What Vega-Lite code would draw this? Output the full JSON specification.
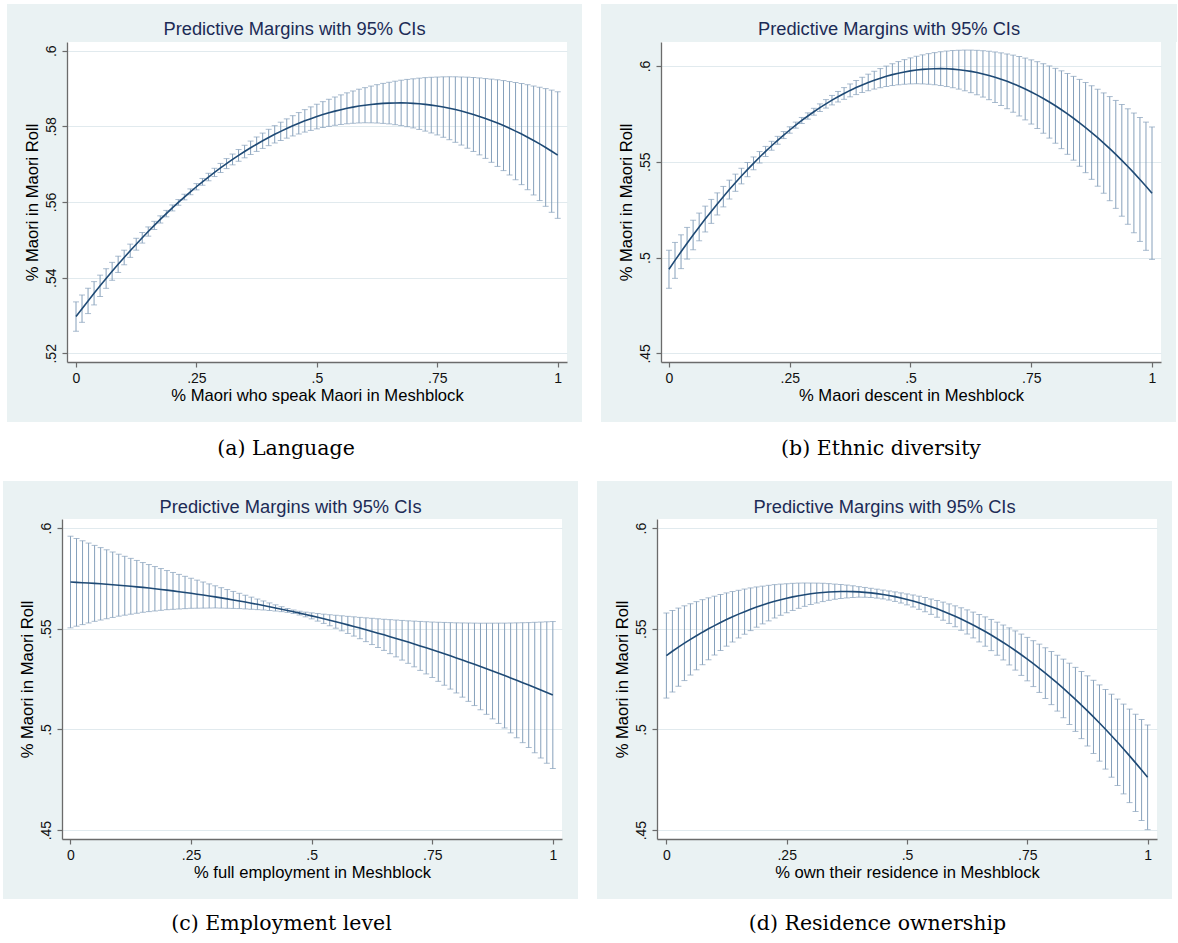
{
"$schema":"https://vega.github.io/schema/vega-lite/v6.json",
"background":"#eaf2f3",
"padding":0,
"spacing":0,
"config":{"view":{"stroke":null},"concat":{"spacing":0},"font":"Liberation Sans",
"axis":{"labelFont":"Liberation Sans","labelFontSize":14,"labelColor":"#111111","titleFont":"Liberation Sans","titleFontSize":16.6,"titleFontWeight":"normal","titleColor":"#000000","domainColor":"#6b6b6b","domainWidth":1.3,"tickColor":"#6b6b6b","tickWidth":1.2,"tickSize":5,"gridColor":"#e1eaee","gridWidth":1,"labelFlush":false,"labelOverlap":false,"labelPadding":4},
"axisX":{"titlePadding":2},
"axisY":{"titlePadding":4}},
"datasets":{
"a":[{"x":0,"m":0.52971,"e":0.00388},{"x":0.0125,"m":0.5318,"e":0.00361},{"x":0.025,"m":0.53385,"e":0.00335},{"x":0.0375,"m":0.53587,"e":0.00308},{"x":0.05,"m":0.53784,"e":0.00282},{"x":0.0625,"m":0.53977,"e":0.00259},{"x":0.075,"m":0.54167,"e":0.00237},{"x":0.0875,"m":0.54352,"e":0.00215},{"x":0.1,"m":0.54533,"e":0.00193},{"x":0.1125,"m":0.54711,"e":0.00175},{"x":0.125,"m":0.54884,"e":0.00157},{"x":0.1375,"m":0.55054,"e":0.0014},{"x":0.15,"m":0.55219,"e":0.00122},{"x":0.1625,"m":0.55381,"e":0.00108},{"x":0.175,"m":0.55539,"e":0.00095},{"x":0.1875,"m":0.55693,"e":0.00085},{"x":0.2,"m":0.55843,"e":0.00079},{"x":0.2125,"m":0.55989,"e":0.00075},{"x":0.225,"m":0.56131,"e":0.00074},{"x":0.2375,"m":0.56269,"e":0.00077},{"x":0.25,"m":0.56403,"e":0.00083},{"x":0.2625,"m":0.56533,"e":0.0009},{"x":0.275,"m":0.5666,"e":0.00099},{"x":0.2875,"m":0.56782,"e":0.00109},{"x":0.3,"m":0.569,"e":0.0012},{"x":0.3125,"m":0.57015,"e":0.00132},{"x":0.325,"m":0.57125,"e":0.00143},{"x":0.3375,"m":0.57232,"e":0.00155},{"x":0.35,"m":0.57334,"e":0.00166},{"x":0.3625,"m":0.57433,"e":0.00178},{"x":0.375,"m":0.57528,"e":0.00191},{"x":0.3875,"m":0.57619,"e":0.00203},{"x":0.4,"m":0.57706,"e":0.00216},{"x":0.4125,"m":0.57789,"e":0.00229},{"x":0.425,"m":0.57868,"e":0.00242},{"x":0.4375,"m":0.57943,"e":0.00255},{"x":0.45,"m":0.58014,"e":0.00268},{"x":0.4625,"m":0.58081,"e":0.00283},{"x":0.475,"m":0.58145,"e":0.00297},{"x":0.4875,"m":0.58204,"e":0.00311},{"x":0.5,"m":0.58259,"e":0.00326},{"x":0.5125,"m":0.58311,"e":0.00342},{"x":0.525,"m":0.58358,"e":0.00358},{"x":0.5375,"m":0.58402,"e":0.00374},{"x":0.55,"m":0.58441,"e":0.00391},{"x":0.5625,"m":0.58477,"e":0.00409},{"x":0.575,"m":0.58508,"e":0.00427},{"x":0.5875,"m":0.58536,"e":0.00446},{"x":0.6,"m":0.58559,"e":0.00464},{"x":0.6125,"m":0.58579,"e":0.00486},{"x":0.625,"m":0.58595,"e":0.00507},{"x":0.6375,"m":0.58607,"e":0.00529},{"x":0.65,"m":0.58615,"e":0.0055},{"x":0.6625,"m":0.58619,"e":0.00575},{"x":0.675,"m":0.5862,"e":0.006},{"x":0.6875,"m":0.58616,"e":0.00625},{"x":0.7,"m":0.58608,"e":0.00649},{"x":0.7125,"m":0.58596,"e":0.00678},{"x":0.725,"m":0.58581,"e":0.00707},{"x":0.7375,"m":0.58561,"e":0.00736},{"x":0.75,"m":0.58538,"e":0.00765},{"x":0.7625,"m":0.5851,"e":0.00799},{"x":0.775,"m":0.58479,"e":0.00832},{"x":0.7875,"m":0.58444,"e":0.00866},{"x":0.8,"m":0.58405,"e":0.009},{"x":0.8125,"m":0.58361,"e":0.00939},{"x":0.825,"m":0.58314,"e":0.00978},{"x":0.8375,"m":0.58263,"e":0.01017},{"x":0.85,"m":0.58208,"e":0.01055},{"x":0.8625,"m":0.58149,"e":0.011},{"x":0.875,"m":0.58086,"e":0.01145},{"x":0.8875,"m":0.5802,"e":0.0119},{"x":0.9,"m":0.57949,"e":0.01235},{"x":0.9125,"m":0.57874,"e":0.01286},{"x":0.925,"m":0.57796,"e":0.01337},{"x":0.9375,"m":0.57713,"e":0.01388},{"x":0.95,"m":0.57626,"e":0.0144},{"x":0.9625,"m":0.57536,"e":0.01498},{"x":0.975,"m":0.57442,"e":0.01556},{"x":0.9875,"m":0.57343,"e":0.01615},{"x":1,"m":0.57241,"e":0.01673}],
"b":[{"x":0,"m":0.4939,"e":0.00992},{"x":0.0125,"m":0.49853,"e":0.00937},{"x":0.025,"m":0.50305,"e":0.00882},{"x":0.0375,"m":0.50747,"e":0.00827},{"x":0.05,"m":0.51178,"e":0.00771},{"x":0.0625,"m":0.51599,"e":0.00723},{"x":0.075,"m":0.5201,"e":0.00674},{"x":0.0875,"m":0.5241,"e":0.00625},{"x":0.1,"m":0.52799,"e":0.00577},{"x":0.1125,"m":0.53179,"e":0.00534},{"x":0.125,"m":0.53547,"e":0.00492},{"x":0.1375,"m":0.53906,"e":0.00449},{"x":0.15,"m":0.54253,"e":0.00407},{"x":0.1625,"m":0.54591,"e":0.00371},{"x":0.175,"m":0.54917,"e":0.00335},{"x":0.1875,"m":0.55234,"e":0.00299},{"x":0.2,"m":0.55539,"e":0.00263},{"x":0.2125,"m":0.55835,"e":0.00232},{"x":0.225,"m":0.5612,"e":0.00206},{"x":0.2375,"m":0.56394,"e":0.00183},{"x":0.25,"m":0.56658,"e":0.00167},{"x":0.2625,"m":0.56912,"e":0.00158},{"x":0.275,"m":0.57155,"e":0.00157},{"x":0.2875,"m":0.57388,"e":0.00164},{"x":0.3,"m":0.5761,"e":0.00179},{"x":0.3125,"m":0.57822,"e":0.00198},{"x":0.325,"m":0.58023,"e":0.00221},{"x":0.3375,"m":0.58214,"e":0.00247},{"x":0.35,"m":0.58394,"e":0.00275},{"x":0.3625,"m":0.58564,"e":0.00306},{"x":0.375,"m":0.58724,"e":0.00336},{"x":0.3875,"m":0.58873,"e":0.00367},{"x":0.4,"m":0.59011,"e":0.00398},{"x":0.4125,"m":0.59139,"e":0.00432},{"x":0.425,"m":0.59257,"e":0.00465},{"x":0.4375,"m":0.59364,"e":0.00499},{"x":0.45,"m":0.5946,"e":0.00533},{"x":0.4625,"m":0.59547,"e":0.00569},{"x":0.475,"m":0.59622,"e":0.00606},{"x":0.4875,"m":0.59688,"e":0.00642},{"x":0.5,"m":0.59742,"e":0.00679},{"x":0.5125,"m":0.59787,"e":0.00718},{"x":0.525,"m":0.59821,"e":0.00758},{"x":0.5375,"m":0.59844,"e":0.00798},{"x":0.55,"m":0.59857,"e":0.00838},{"x":0.5625,"m":0.5986,"e":0.00882},{"x":0.575,"m":0.59852,"e":0.00926},{"x":0.5875,"m":0.59834,"e":0.0097},{"x":0.6,"m":0.59805,"e":0.01014},{"x":0.6125,"m":0.59766,"e":0.01062},{"x":0.625,"m":0.59716,"e":0.01111},{"x":0.6375,"m":0.59656,"e":0.0116},{"x":0.65,"m":0.59585,"e":0.01209},{"x":0.6625,"m":0.59504,"e":0.01264},{"x":0.675,"m":0.59412,"e":0.01318},{"x":0.6875,"m":0.5931,"e":0.01373},{"x":0.7,"m":0.59197,"e":0.01428},{"x":0.7125,"m":0.59075,"e":0.0149},{"x":0.725,"m":0.58941,"e":0.01551},{"x":0.7375,"m":0.58798,"e":0.01613},{"x":0.75,"m":0.58643,"e":0.01675},{"x":0.7625,"m":0.58479,"e":0.01744},{"x":0.775,"m":0.58303,"e":0.01814},{"x":0.7875,"m":0.58118,"e":0.01883},{"x":0.8,"m":0.57921,"e":0.01953},{"x":0.8125,"m":0.57715,"e":0.02031},{"x":0.825,"m":0.57498,"e":0.02109},{"x":0.8375,"m":0.5727,"e":0.02187},{"x":0.85,"m":0.57032,"e":0.02266},{"x":0.8625,"m":0.56784,"e":0.02354},{"x":0.875,"m":0.56525,"e":0.02442},{"x":0.8875,"m":0.56255,"e":0.0253},{"x":0.9,"m":0.55975,"e":0.02618},{"x":0.9125,"m":0.55685,"e":0.02717},{"x":0.925,"m":0.55384,"e":0.02816},{"x":0.9375,"m":0.55073,"e":0.02914},{"x":0.95,"m":0.54751,"e":0.03013},{"x":0.9625,"m":0.54419,"e":0.03124},{"x":0.975,"m":0.54077,"e":0.03234},{"x":0.9875,"m":0.53724,"e":0.03345},{"x":1,"m":0.5336,"e":0.03455}],
"c":[{"x":0,"m":0.5732,"e":0.02276},{"x":0.0125,"m":0.57304,"e":0.02178},{"x":0.025,"m":0.57287,"e":0.02081},{"x":0.0375,"m":0.57271,"e":0.01983},{"x":0.05,"m":0.57254,"e":0.01885},{"x":0.0625,"m":0.57232,"e":0.01798},{"x":0.075,"m":0.57209,"e":0.01712},{"x":0.0875,"m":0.57187,"e":0.01625},{"x":0.1,"m":0.57164,"e":0.01538},{"x":0.1125,"m":0.57136,"e":0.01462},{"x":0.125,"m":0.57109,"e":0.01386},{"x":0.1375,"m":0.57081,"e":0.01311},{"x":0.15,"m":0.57053,"e":0.01235},{"x":0.1625,"m":0.5702,"e":0.01169},{"x":0.175,"m":0.56986,"e":0.01103},{"x":0.1875,"m":0.56953,"e":0.01037},{"x":0.2,"m":0.56919,"e":0.00972},{"x":0.2125,"m":0.5688,"e":0.00915},{"x":0.225,"m":0.56841,"e":0.00859},{"x":0.2375,"m":0.56801,"e":0.00802},{"x":0.25,"m":0.56762,"e":0.00746},{"x":0.2625,"m":0.56717,"e":0.00697},{"x":0.275,"m":0.56673,"e":0.00648},{"x":0.2875,"m":0.56628,"e":0.00599},{"x":0.3,"m":0.56583,"e":0.0055},{"x":0.3125,"m":0.56533,"e":0.00507},{"x":0.325,"m":0.56482,"e":0.00465},{"x":0.3375,"m":0.56432,"e":0.00422},{"x":0.35,"m":0.56381,"e":0.00379},{"x":0.3625,"m":0.56325,"e":0.0034},{"x":0.375,"m":0.56269,"e":0.00301},{"x":0.3875,"m":0.56213,"e":0.00263},{"x":0.4,"m":0.56157,"e":0.00224},{"x":0.4125,"m":0.56095,"e":0.00188},{"x":0.425,"m":0.56034,"e":0.00154},{"x":0.4375,"m":0.55972,"e":0.00122},{"x":0.45,"m":0.5591,"e":0.00097},{"x":0.4625,"m":0.55843,"e":0.00086},{"x":0.475,"m":0.55776,"e":0.00093},{"x":0.4875,"m":0.55708,"e":0.00116},{"x":0.5,"m":0.55641,"e":0.00149},{"x":0.5125,"m":0.55568,"e":0.00188},{"x":0.525,"m":0.55495,"e":0.00229},{"x":0.5375,"m":0.55422,"e":0.00274},{"x":0.55,"m":0.55349,"e":0.00321},{"x":0.5625,"m":0.55271,"e":0.00373},{"x":0.575,"m":0.55192,"e":0.00425},{"x":0.5875,"m":0.55114,"e":0.00478},{"x":0.6,"m":0.55035,"e":0.0053},{"x":0.6125,"m":0.54951,"e":0.00591},{"x":0.625,"m":0.54867,"e":0.00652},{"x":0.6375,"m":0.54782,"e":0.00713},{"x":0.65,"m":0.54698,"e":0.00773},{"x":0.6625,"m":0.54608,"e":0.00844},{"x":0.675,"m":0.54519,"e":0.00914},{"x":0.6875,"m":0.54429,"e":0.00984},{"x":0.7,"m":0.54339,"e":0.01055},{"x":0.7125,"m":0.54244,"e":0.01135},{"x":0.725,"m":0.54148,"e":0.01215},{"x":0.7375,"m":0.54053,"e":0.01296},{"x":0.75,"m":0.53957,"e":0.01376},{"x":0.7625,"m":0.53856,"e":0.01467},{"x":0.775,"m":0.53755,"e":0.01559},{"x":0.7875,"m":0.53654,"e":0.0165},{"x":0.8,"m":0.53553,"e":0.01741},{"x":0.8125,"m":0.53446,"e":0.01843},{"x":0.825,"m":0.5334,"e":0.01945},{"x":0.8375,"m":0.53233,"e":0.02047},{"x":0.85,"m":0.53126,"e":0.02149},{"x":0.8625,"m":0.53014,"e":0.02263},{"x":0.875,"m":0.52901,"e":0.02376},{"x":0.8875,"m":0.52789,"e":0.0249},{"x":0.9,"m":0.52676,"e":0.02603},{"x":0.9125,"m":0.52558,"e":0.02728},{"x":0.925,"m":0.5244,"e":0.02853},{"x":0.9375,"m":0.52322,"e":0.02978},{"x":0.95,"m":0.52204,"e":0.03102},{"x":0.9625,"m":0.52081,"e":0.03239},{"x":0.975,"m":0.51957,"e":0.03375},{"x":0.9875,"m":0.51834,"e":0.03512},{"x":1,"m":0.5171,"e":0.03648}],
"d":[{"x":0,"m":0.5367,"e":0.02112},{"x":0.0125,"m":0.53882,"e":0.02027},{"x":0.025,"m":0.54086,"e":0.01941},{"x":0.0375,"m":0.54283,"e":0.01856},{"x":0.05,"m":0.54472,"e":0.0177},{"x":0.0625,"m":0.54654,"e":0.01693},{"x":0.075,"m":0.5483,"e":0.01615},{"x":0.0875,"m":0.54997,"e":0.01538},{"x":0.1,"m":0.55157,"e":0.01461},{"x":0.1125,"m":0.5531,"e":0.01391},{"x":0.125,"m":0.55457,"e":0.01322},{"x":0.1375,"m":0.55595,"e":0.01253},{"x":0.15,"m":0.55726,"e":0.01183},{"x":0.1625,"m":0.5585,"e":0.01122},{"x":0.175,"m":0.55968,"e":0.0106},{"x":0.1875,"m":0.56077,"e":0.00999},{"x":0.2,"m":0.56179,"e":0.00937},{"x":0.2125,"m":0.56274,"e":0.00883},{"x":0.225,"m":0.56363,"e":0.00829},{"x":0.2375,"m":0.56443,"e":0.00774},{"x":0.25,"m":0.56516,"e":0.0072},{"x":0.2625,"m":0.56582,"e":0.00673},{"x":0.275,"m":0.56641,"e":0.00627},{"x":0.2875,"m":0.56692,"e":0.0058},{"x":0.3,"m":0.56736,"e":0.00533},{"x":0.3125,"m":0.56773,"e":0.00494},{"x":0.325,"m":0.56804,"e":0.00455},{"x":0.3375,"m":0.56826,"e":0.00415},{"x":0.35,"m":0.56841,"e":0.00376},{"x":0.3625,"m":0.56849,"e":0.00348},{"x":0.375,"m":0.5685,"e":0.00319},{"x":0.3875,"m":0.56843,"e":0.0029},{"x":0.4,"m":0.56829,"e":0.00261},{"x":0.4125,"m":0.56808,"e":0.00243},{"x":0.425,"m":0.5678,"e":0.00229},{"x":0.4375,"m":0.56744,"e":0.00222},{"x":0.45,"m":0.56701,"e":0.0022},{"x":0.4625,"m":0.56651,"e":0.00225},{"x":0.475,"m":0.56594,"e":0.00236},{"x":0.4875,"m":0.56529,"e":0.00252},{"x":0.5,"m":0.56457,"e":0.00272},{"x":0.5125,"m":0.56378,"e":0.003},{"x":0.525,"m":0.56292,"e":0.00327},{"x":0.5375,"m":0.56197,"e":0.00354},{"x":0.55,"m":0.56096,"e":0.00381},{"x":0.5625,"m":0.55988,"e":0.00416},{"x":0.575,"m":0.55873,"e":0.0045},{"x":0.5875,"m":0.55749,"e":0.00485},{"x":0.6,"m":0.55619,"e":0.00519},{"x":0.6125,"m":0.55482,"e":0.0056},{"x":0.625,"m":0.55338,"e":0.006},{"x":0.6375,"m":0.55186,"e":0.00641},{"x":0.65,"m":0.55027,"e":0.00681},{"x":0.6625,"m":0.54861,"e":0.00728},{"x":0.675,"m":0.54688,"e":0.00774},{"x":0.6875,"m":0.54506,"e":0.00821},{"x":0.7,"m":0.54318,"e":0.00867},{"x":0.7125,"m":0.54123,"e":0.0092},{"x":0.725,"m":0.5392,"e":0.00973},{"x":0.7375,"m":0.5371,"e":0.01026},{"x":0.75,"m":0.53492,"e":0.01079},{"x":0.7625,"m":0.53268,"e":0.01139},{"x":0.775,"m":0.53037,"e":0.01199},{"x":0.7875,"m":0.52797,"e":0.01259},{"x":0.8,"m":0.52551,"e":0.01319},{"x":0.8125,"m":0.52298,"e":0.01387},{"x":0.825,"m":0.52037,"e":0.01455},{"x":0.8375,"m":0.51769,"e":0.01522},{"x":0.85,"m":0.51493,"e":0.0159},{"x":0.8625,"m":0.51211,"e":0.01666},{"x":0.875,"m":0.50921,"e":0.01742},{"x":0.8875,"m":0.50624,"e":0.01817},{"x":0.9,"m":0.50319,"e":0.01893},{"x":0.9125,"m":0.50008,"e":0.01977},{"x":0.925,"m":0.49689,"e":0.02061},{"x":0.9375,"m":0.49363,"e":0.02145},{"x":0.95,"m":0.49029,"e":0.02229},{"x":0.9625,"m":0.48689,"e":0.02322},{"x":0.975,"m":0.48341,"e":0.02414},{"x":0.9875,"m":0.47986,"e":0.02507},{"x":1,"m":0.47623,"e":0.02599}]
},
"vconcat":[
{"width":1178,"height":4,"data":{"values":[]},"mark":"point","encoding":{},"view":{"fill":"white"}},
{"bounds":"flush","spacing":0,"hconcat":[
 {"width":7,"height":38,"data":{"values":[]},"mark":"point","encoding":{},"view":{"fill":"white"}},
 {"width":575,"height":38,"data":{"values":[{"t":"Predictive Margins with 95% CIs"}]},"mark":{"type":"text","font":"Liberation Sans","fontSize":18.3,"color":"#1c2b56","baseline":"alphabetic","dy":12},"encoding":{"text":{"field":"t"}}},
 {"width":19,"height":38,"data":{"values":[]},"mark":"point","encoding":{},"view":{"fill":"white"}},
 {"width":576,"height":38,"data":{"values":[{"t":"Predictive Margins with 95% CIs"}]},"mark":{"type":"text","font":"Liberation Sans","fontSize":18.3,"color":"#1c2b56","baseline":"alphabetic","dy":12},"encoding":{"text":{"field":"t"}}},
 {"width":1,"height":38,"data":{"values":[]},"mark":"point","encoding":{},"view":{"fill":"white"}}
]},
{"bounds":"flush","spacing":0,"hconcat":[
 {"width":7,"height":380,"data":{"values":[]},"mark":"point","encoding":{},"view":{"fill":"white"}},
 {"width":60,"height":380,"data":{"values":[]},"mark":"point","encoding":{}},
 {"width":500,"height":320,"data":{"name":"a"},"view":{"fill":"white"},
  "encoding":{
   "x":{"field":"x","type":"quantitative","scale":{"domain":[-0.0187,1.0193],"nice":false,"zero":false},"axis":{"values":[0,0.25,0.5,0.75,1],"grid":false,"title":"% Maori who speak Maori in Meshblock","labelExpr":"replace(format(datum.value, '.2~f'), '0.', '.')"}},
   "y":{"field":"m","type":"quantitative","scale":{"domain":[0.5177,0.6023],"nice":false,"zero":false},"axis":{"values":[0.52,0.54,0.56,0.58,0.6],"grid":true,"labelAngle":270,"title":"% Maori in Maori Roll","labelExpr":"replace(format(datum.value, '.2~f'), '0.', '.')"}}},
  "layer":[
   {"mark":{"type":"errorbar","ticks":true,"size":6,"thickness":1,"color":"#86a0bb"},"encoding":{"yError":{"field":"e"}}},
   {"mark":{"type":"line","color":"#1f4a75","strokeWidth":1.6},"encoding":{}}
  ]},
 {"width":15,"height":380,"data":{"values":[]},"mark":"point","encoding":{}},
 {"width":19,"height":380,"data":{"values":[]},"mark":"point","encoding":{},"view":{"fill":"white"}},
 {"width":60,"height":380,"data":{"values":[]},"mark":"point","encoding":{}},
 {"width":500,"height":320,"data":{"name":"b"},"view":{"fill":"white"},
  "encoding":{
   "x":{"field":"x","type":"quantitative","scale":{"domain":[-0.0165,1.0186],"nice":false,"zero":false},"axis":{"values":[0,0.25,0.5,0.75,1],"grid":false,"title":"% Maori descent in Meshblock","labelExpr":"replace(format(datum.value, '.2~f'), '0.', '.')"}},
   "y":{"field":"m","type":"quantitative","scale":{"domain":[0.4455,0.6125],"nice":false,"zero":false},"axis":{"values":[0.45,0.5,0.55,0.6],"grid":true,"labelAngle":270,"title":"% Maori in Maori Roll","labelExpr":"replace(format(datum.value, '.2~f'), '0.', '.')"}}},
  "layer":[
   {"mark":{"type":"errorbar","ticks":true,"size":6,"thickness":1,"color":"#86a0bb"},"encoding":{"yError":{"field":"e"}}},
   {"mark":{"type":"line","color":"#1f4a75","strokeWidth":1.6},"encoding":{}}
  ]},
 {"width":15,"height":380,"data":{"values":[]},"mark":"point","encoding":{}},
 {"width":2,"height":380,"data":{"values":[]},"mark":"point","encoding":{},"view":{"fill":"white"}}
]},
{"bounds":"flush","spacing":0,"hconcat":[
 {"width":572,"height":59,"view":{"fill":"white"},"data":{"values":[{"t":"(a) Language"}]},"mark":{"type":"text","font":"DejaVu Serif","fontSize":20.5,"color":"#000000","baseline":"alphabetic","dy":3},"encoding":{"text":{"field":"t"}}},
 {"width":606,"height":59,"view":{"fill":"white"},"data":{"values":[{"t":"(b) Ethnic diversity"}]},"mark":{"type":"text","font":"DejaVu Serif","fontSize":20.5,"color":"#000000","baseline":"alphabetic","dy":3,"dx":6},"encoding":{"text":{"field":"t"}}}
]},
{"bounds":"flush","spacing":0,"hconcat":[
 {"width":3,"height":38,"data":{"values":[]},"mark":"point","encoding":{},"view":{"fill":"white"}},
 {"width":575,"height":38,"data":{"values":[{"t":"Predictive Margins with 95% CIs"}]},"mark":{"type":"text","font":"Liberation Sans","fontSize":18.3,"color":"#1c2b56","baseline":"alphabetic","dy":12.5},"encoding":{"text":{"field":"t"}}},
 {"width":19,"height":38,"data":{"values":[]},"mark":"point","encoding":{},"view":{"fill":"white"}},
 {"width":575,"height":38,"data":{"values":[{"t":"Predictive Margins with 95% CIs"}]},"mark":{"type":"text","font":"Liberation Sans","fontSize":18.3,"color":"#1c2b56","baseline":"alphabetic","dy":12.5},"encoding":{"text":{"field":"t"}}},
 {"width":6,"height":38,"data":{"values":[]},"mark":"point","encoding":{},"view":{"fill":"white"}}
]},
{"bounds":"flush","spacing":0,"hconcat":[
 {"width":3,"height":380,"data":{"values":[]},"mark":"point","encoding":{},"view":{"fill":"white"}},
 {"width":59,"height":380,"data":{"values":[]},"mark":"point","encoding":{}},
 {"width":500,"height":320,"data":{"name":"c"},"view":{"fill":"white"},
  "encoding":{
   "x":{"field":"x","type":"quantitative","scale":{"domain":[-0.0176,1.019],"nice":false,"zero":false},"axis":{"values":[0,0.25,0.5,0.75,1],"grid":false,"title":"% full employment in Meshblock","labelExpr":"replace(format(datum.value, '.2~f'), '0.', '.')"}},
   "y":{"field":"m","type":"quantitative","scale":{"domain":[0.4456,0.6045],"nice":false,"zero":false},"axis":{"values":[0.45,0.5,0.55,0.6],"grid":true,"labelAngle":270,"title":"% Maori in Maori Roll","labelExpr":"replace(format(datum.value, '.2~f'), '0.', '.')"}}},
  "layer":[
   {"mark":{"type":"errorbar","ticks":true,"size":6,"thickness":1,"color":"#86a0bb"},"encoding":{"yError":{"field":"e"}}},
   {"mark":{"type":"line","color":"#1f4a75","strokeWidth":1.6},"encoding":{}}
  ]},
 {"width":16,"height":380,"data":{"values":[]},"mark":"point","encoding":{}},
 {"width":19,"height":380,"data":{"values":[]},"mark":"point","encoding":{},"view":{"fill":"white"}},
 {"width":60,"height":380,"data":{"values":[]},"mark":"point","encoding":{}},
 {"width":500,"height":320,"data":{"name":"d"},"view":{"fill":"white"},
  "encoding":{
   "x":{"field":"x","type":"quantitative","scale":{"domain":[-0.0195,1.0195],"nice":false,"zero":false},"axis":{"values":[0,0.25,0.5,0.75,1],"grid":false,"title":"% own their residence in Meshblock","labelExpr":"replace(format(datum.value, '.2~f'), '0.', '.')"}},
   "y":{"field":"m","type":"quantitative","scale":{"domain":[0.4456,0.6045],"nice":false,"zero":false},"axis":{"values":[0.45,0.5,0.55,0.6],"grid":true,"labelAngle":270,"title":"% Maori in Maori Roll","labelExpr":"replace(format(datum.value, '.2~f'), '0.', '.')"}}},
  "layer":[
   {"mark":{"type":"errorbar","ticks":true,"size":6,"thickness":1,"color":"#86a0bb"},"encoding":{"yError":{"field":"e"}}},
   {"mark":{"type":"line","color":"#1f4a75","strokeWidth":1.6},"encoding":{}}
  ]},
 {"width":15,"height":380,"data":{"values":[]},"mark":"point","encoding":{}},
 {"width":6,"height":380,"data":{"values":[]},"mark":"point","encoding":{},"view":{"fill":"white"}}
]},
{"bounds":"flush","spacing":0,"hconcat":[
 {"width":563,"height":44,"view":{"fill":"white"},"data":{"values":[{"t":"(c) Employment level"}]},"mark":{"type":"text","font":"DejaVu Serif","fontSize":20.5,"color":"#000000","baseline":"alphabetic","dy":9},"encoding":{"text":{"field":"t"}}},
 {"width":615,"height":44,"view":{"fill":"white"},"data":{"values":[{"t":"(d) Residence ownership"}]},"mark":{"type":"text","font":"DejaVu Serif","fontSize":20.5,"color":"#000000","baseline":"alphabetic","dy":9,"dx":7},"encoding":{"text":{"field":"t"}}}
]}
]
}
